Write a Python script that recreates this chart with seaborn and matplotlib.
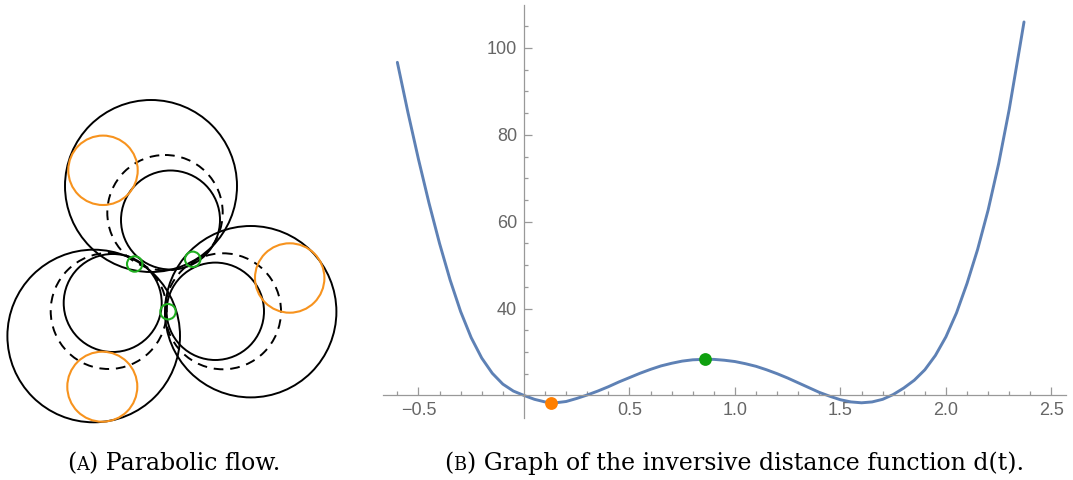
import matplotlib
matplotlib.use("Agg")
import matplotlib.pyplot as plt
from matplotlib.patches import Circle
from matplotlib.ticker import FixedLocator, FixedFormatter
import seaborn as sns

# ---- panel (A): circle packing, centres/radii (pixels) ----
big_x = [151.0, 93.7, 250.7]
big_y = [186.0, 336.0, 311.7]
big_r = [86.0, 86.3, 85.7]

inner_x = [170.5, 112.7, 215.3]
inner_y = [220.0, 303.0, 311.3]
inner_r = [49.5, 49.0, 48.7]

dash_x = [165.0, 108.7, 223.0]
dash_y = [212.7, 311.0, 311.3]
dash_r = [57.7, 58.0, 58.0]

orange_x = [103.0, 102.3, 289.7]
orange_y = [170.3, 386.7, 278.0]
orange_r = [34.7, 35.0, 34.7]

green_x = [134.7, 192.7, 168.0]
green_y = [264.0, 259.3, 311.7]
green_r = [7.7, 7.7, 7.7]

# ---- panel (B): inversive distance d(t) ----
t_vals = [-0.60, -0.55, -0.50, -0.45, -0.40, -0.35, -0.30, -0.25, -0.20, -0.15,
          -0.10, -0.05, 0.00, 0.05, 0.10, 0.15, 0.20, 0.25, 0.30, 0.35,
          0.40, 0.45, 0.50, 0.55, 0.60, 0.65, 0.70, 0.75, 0.80, 0.85,
          0.90, 0.95, 1.00, 1.05, 1.10, 1.15, 1.20, 1.25, 1.30, 1.35,
          1.40, 1.45, 1.50, 1.55, 1.60, 1.65, 1.70, 1.75, 1.80, 1.85,
          1.90, 1.95, 2.00, 2.05, 2.10, 2.15, 2.20, 2.25, 2.30, 2.35, 2.37]
d_vals = [96.7, 85.2, 74.4, 64.3, 55.0, 46.6, 39.3, 33.3, 28.6, 25.1,
          22.6, 21.0, 20.0, 19.1, 18.5, 18.3, 18.6, 19.3, 20.1, 21.0,
          22.0, 23.1, 24.1, 25.1, 26.0, 26.8, 27.4, 27.9, 28.2, 28.3,
          28.3, 28.1, 27.8, 27.3, 26.7, 25.9, 25.0, 24.0, 22.9, 21.8,
          20.7, 19.8, 19.0, 18.5, 18.3, 18.5, 19.1, 20.2, 21.7, 23.5,
          25.9, 29.2, 33.5, 39.0, 45.8, 53.6, 62.7, 73.4, 85.9, 100.2, 106.0]

min_t, min_d = [0.13], [18.3]
max_t, max_d = [0.86], [28.3]

x_ticks = [-0.5, 0.5, 1.0, 1.5, 2.0, 2.5]
x_labels = ["\u22120.5", "0.5", "1.0", "1.5", "2.0", "2.5"]
y_ticks = [40, 60, 80, 100]
y_labels = ["40", "60", "80", "100"]

sns.set_theme(style="white")
plt.rcParams["font.family"] = ["Liberation Sans", "DejaVu Sans"]

W, H = 1073, 480
fig = plt.figure(figsize=(W / 100, H / 100), dpi=100)

# left panel, axes in picture pixels
ax0 = fig.add_axes([0, (H - 430) / H, 350 / W, 340 / H])
ax0.set_xlim(0, 350)
ax0.set_ylim(430, 90)
ax0.set_aspect("equal")
ax0.axis("off")

def draw_circles(xs, ys, rs, **kw):
    for cx, cy, r in zip(xs, ys, rs):
        ax0.add_patch(Circle((cx, cy), r, fill=False, **kw))

draw_circles(big_x, big_y, big_r, ec="black", lw=1.4)
draw_circles(inner_x, inner_y, inner_r, ec="black", lw=1.4)
draw_circles(dash_x, dash_y, dash_r, ec="black", lw=1.4, ls=(0, (5, 3.5)))
draw_circles(orange_x, orange_y, orange_r, ec="#F7931E", lw=1.5)
draw_circles(green_x, green_y, green_r, ec="#1FAF1F", lw=1.5)

# right panel, Mathematica-like crossing axes
ax1 = fig.add_axes([383 / W, (H - 418) / H, (1066 - 383) / W, (418 - 5) / H])
sns.lineplot(x=t_vals, y=d_vals, ax=ax1, color="#5E81B5", lw=2.1, errorbar=None,
             solid_joinstyle="round")
sns.scatterplot(x=min_t, y=min_d, ax=ax1, color="#FF7F00", s=85, linewidth=0, zorder=5)
sns.scatterplot(x=max_t, y=max_d, ax=ax1, color="#0FA00F", s=85, linewidth=0, zorder=5)

ax1.set_xlim(-0.668, 2.569)
ax1.set_ylim(14.8, 109.9)
for side in ["top", "right"]:
    ax1.spines[side].set_visible(False)
ax1.spines["left"].set_position(("data", 0))
ax1.spines["bottom"].set_position(("data", 20))
for side in ["left", "bottom"]:
    ax1.spines[side].set_color("#999999")
    ax1.spines[side].set_linewidth(0.9)

ax1.xaxis.set_major_locator(FixedLocator(x_ticks))
ax1.xaxis.set_major_formatter(FixedFormatter(x_labels))
ax1.xaxis.set_minor_locator(FixedLocator([i / 10 for i in range(-6, 26) if i % 5 != 0]))
ax1.yaxis.set_major_locator(FixedLocator(y_ticks))
ax1.yaxis.set_major_formatter(FixedFormatter(y_labels))
ax1.yaxis.set_minor_locator(FixedLocator([v for v in range(25, 110, 5) if v % 20 != 0]))
ax1.tick_params(which="both", direction="in", color="#999999", width=0.9,
                labelcolor="#666666", labelsize=13, bottom=True, left=True)
ax1.tick_params(which="major", length=5.5, pad=5)
ax1.tick_params(which="minor", length=3.2)
ax1.set_xlabel("")
ax1.set_ylabel("")
ax1.patch.set_alpha(0)

# captions (small-caps letter emulated by a smaller capital), centred under panels
fig.canvas.draw()
renderer = fig.canvas.get_renderer()

def caption(parts, x_center, base_px, fs=17):
    texts = []
    x = 0
    for s, scale in parts:
        t = fig.text(x / W, (H - base_px) / H, s, fontsize=fs * scale,
                     family="DejaVu Serif", va="baseline", ha="left", color="black")
        x = t.get_window_extent(renderer).x1
        texts.append(t)
    shift = x_center - x / 2
    for t in texts:
        px, py = t.get_position()
        t.set_position((px + shift / W, py))

caption([("(", 1), ("A", 0.75), (") Parabolic flow.", 1)], 174, 470)
caption([("(", 1), ("B", 0.75), (") Graph of the inversive distance function d(t).", 1)], 734, 470)

fig.savefig("out.png", dpi=100)
